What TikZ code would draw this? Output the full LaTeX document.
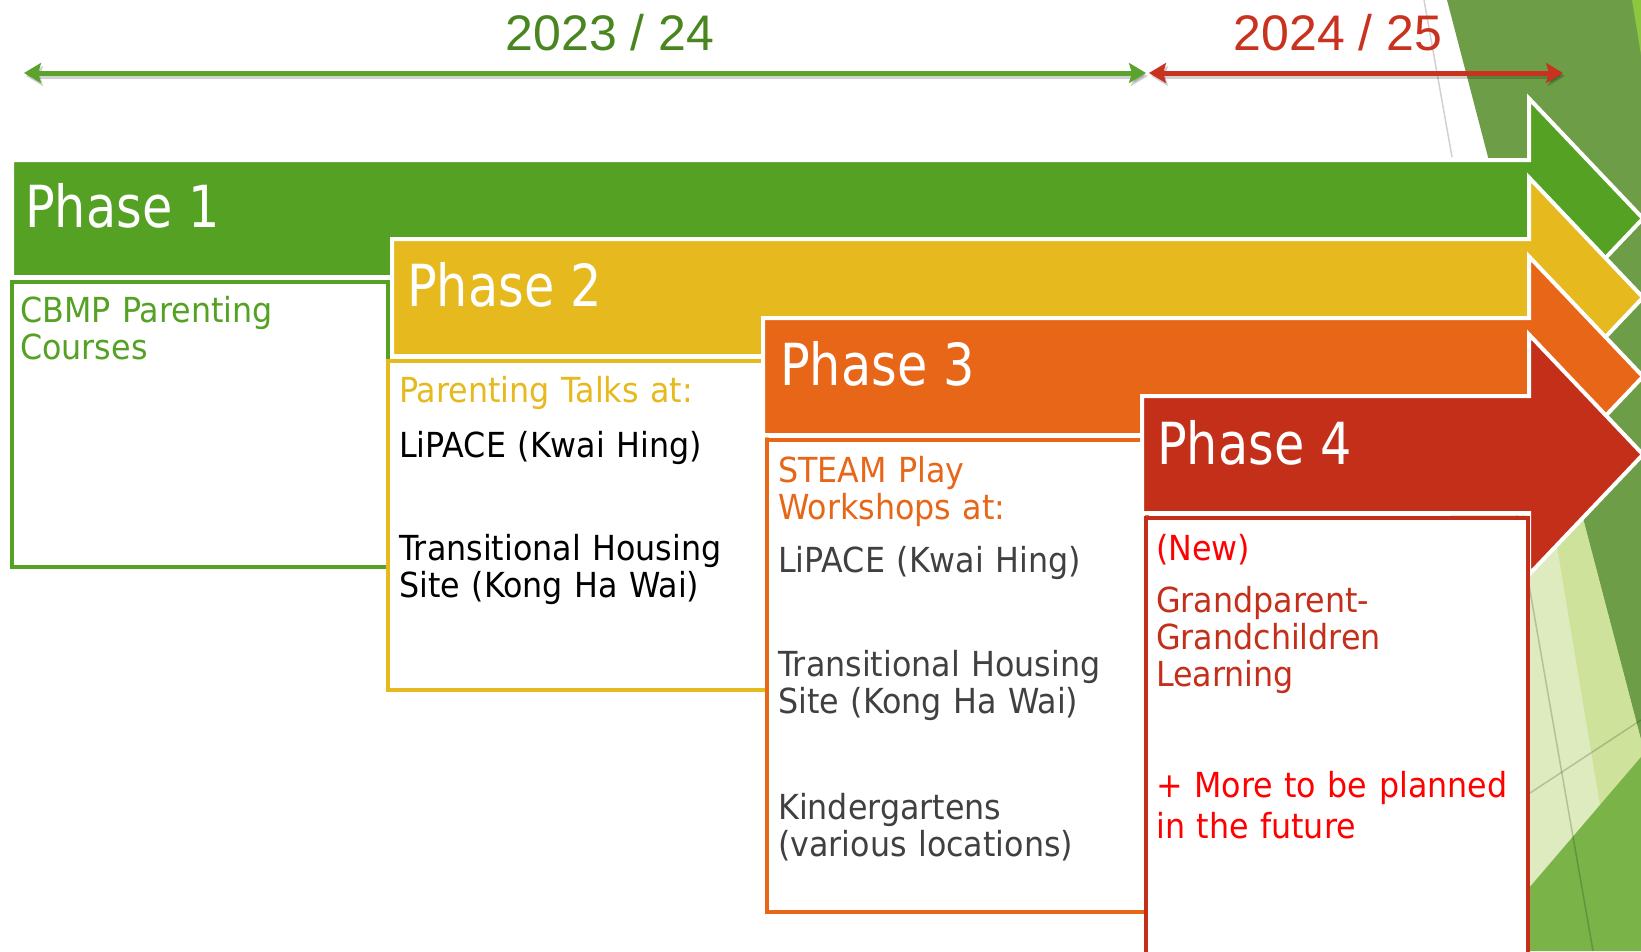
\documentclass[tikz,border=0pt]{standalone}
\usepackage{fontspec}
\setmainfont{DejaVu Sans}[FakeStretch=0.92]
\newfontfamily\phasefont{DejaVu Sans}[FakeStretch=0.85]
\newfontfamily\yearfont{Liberation Sans}
\usetikzlibrary{arrows.meta}

\begin{document}
\begin{tikzpicture}[x=1pt, y=-1pt,
    phaselabel/.style={anchor=base west, inner sep=0pt, text=white, font=\phasefont\fontsize{58}{60}\selectfont},
    bodytext/.style={anchor=base west, inner sep=0pt, text width=420pt, align=left, font=\fontsize{34.5}{37}\selectfont},
    yearlabel/.style={anchor=base, inner sep=0pt, font=\yearfont\fontsize{50}{55}\selectfont},
    timeline/.style={line width=5pt, {Stealth[length=17pt, width=20pt, inset=3pt]}-{Stealth[length=17pt, width=20pt, inset=3pt]}},
    tlshadow/.style={timeline, black, opacity=0.18, transform canvas={xshift=2pt, yshift=-3pt}},
    bgline/.style={line width=1.5pt, black, opacity=0.18}]
    % Colours
    \definecolor{phgreen}{RGB}{84, 161, 35}
    \definecolor{phyellow}{RGB}{230, 185, 30}
    \definecolor{phorange}{RGB}{231, 102, 24}
    \definecolor{phred}{RGB}{196, 47, 26}
    \definecolor{yrgreen}{RGB}{74, 134, 32}
    \definecolor{tlgreen}{RGB}{91, 163, 45}
    \definecolor{tlred}{RGB}{200, 50, 30}
    \definecolor{txtgrey}{RGB}{64, 64, 64}
    \definecolor{newred}{RGB}{255, 0, 0}
    \definecolor{bgolive}{RGB}{110, 157, 72}
    \definecolor{bgpale}{RGB}{221, 235, 190}
    \definecolor{bglight}{RGB}{206, 226, 155}
    \definecolor{bggreen}{RGB}{122, 180, 72}
    \definecolor{bgbright}{RGB}{141, 198, 63}

    \useasboundingbox (0,0) rectangle (1641,951);
    \clip (0,0) rectangle (1641,951);

    % 1. Background shapes on the right
    \fill[bgolive] (1447,0) -- (1641,0) -- (1641,743) -- cycle;
    \fill[bgbright] (1632,0) -- (1641,0) -- (1641,55) -- cycle;
    \fill[bgpale] (1450,450) -- (1565,450) -- (1641,740) -- (1641,757) -- (1475,951) -- (1450,951) -- cycle;
    \fill[bglight] (1541,450) -- (1565,450) -- (1641,740) -- (1641,757) -- (1600,805) -- cycle;
    \fill[bggreen] (1641,757) -- (1641,951) -- (1475,951) -- cycle;
    \draw[bgline] (1424,0) -- (1452,157);
    \draw[bgline] (1515,505) -- (1593,951);
    \draw[bgline] (1530,793) -- (1641,720);

    % 2. Time line with the two school years
    \coordinate (g-left) at (24,73);
    \coordinate (g-right) at (1146,73);
    \coordinate (r-left) at (1149,73);
    \coordinate (r-right) at (1563,73);
    \draw[tlshadow] (g-left) -- (g-right);
    \draw[tlshadow] (r-left) -- (r-right);
    \draw[timeline, tlgreen] (g-left) -- (g-right);
    \draw[timeline, tlred] (r-left) -- (r-right);
    \node[yearlabel, text=yrgreen] (year1) at (610,50) {2023 / 24};
    \node[yearlabel, text=tlred] (year2) at (1338,50) {2024 / 25};

    % 3. Phase arrows and their boxes (shaft left/top, box left/right/bottom, colour)
    \foreach \sl/\st/\bl/\br/\bb/\col in {12/160/12/388/567/phgreen,
        392/239/388/767/690/phyellow,
        763/318/767/1147/912/phorange,
        1142/396/1146/1528/975/phred} {
        \draw[fill=\col, draw=white, line width=4pt, line join=miter]
            (\sl,\st) -- (1529,\st) -- (1529,\st-61.5) -- (1643,\st+58.5)
            -- (1529,\st+178.5) -- (1529,\st+117) -- (\sl,\st+117) -- cycle;
        \draw[draw=\col, fill=white, line width=3.5pt] (\bl,\st+122) rectangle (\br,\bb);
    }

    % 4. Phase titles
    \node[phaselabel] (ph1) at (25,227) {Phase 1};
    \node[phaselabel] (ph2) at (407,306) {Phase 2};
    \node[phaselabel] (ph3) at (780,385) {Phase 3};
    \node[phaselabel] (ph4) at (1157,464) {Phase 4};

    % 5. Texts in the boxes
    \node[bodytext, text=phgreen] (cbmp) at (20,322) {CBMP Parenting\\Courses};

    \node[bodytext, text=phyellow] (talks) at (399,402) {Parenting Talks at:};
    \node[bodytext, text=black] (lipace2) at (399,457) {LiPACE (Kwai Hing)};
    \node[bodytext, text=black] (housing2) at (399,560) {Transitional Housing\\Site (Kong Ha Wai)};

    \node[bodytext, text=phorange] (steam) at (778,482) {STEAM Play\\Workshops at:};
    \node[bodytext, text=txtgrey] (lipace3) at (778,572) {LiPACE (Kwai Hing)};
    \node[bodytext, text=txtgrey] (housing3) at (778,676) {Transitional Housing\\Site (Kong Ha Wai)};
    \node[bodytext, text=txtgrey] (kinder) at (778,819) {Kindergartens\\(various locations)};

    \node[bodytext, text=newred] (new) at (1156,560) {(New)};
    \node[bodytext, text=phred] (grand) at (1156,612) {Grandparent-\\Grandchildren\\Learning};
    \node[bodytext, text=newred, font=\fontsize{34.5}{41}\selectfont] (more) at (1156,797) {+ More to be planned\\in the future};

\end{tikzpicture}
\end{document}
